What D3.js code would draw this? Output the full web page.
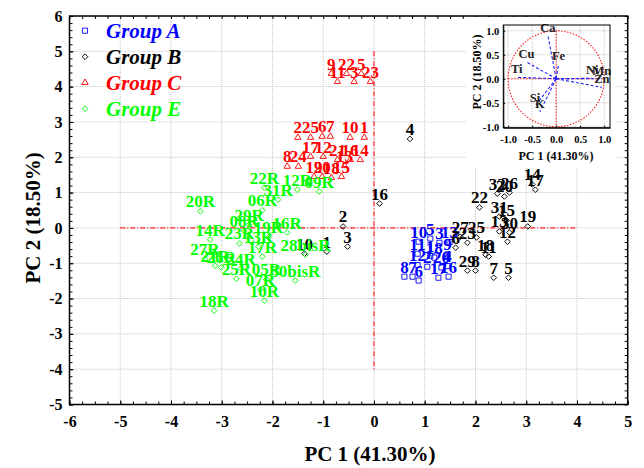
<!DOCTYPE html>
<html>
<head>
<meta charset="utf-8">
<title>PCA scores</title>
<script src="https://d3js.org/d3.v7.min.js"></script>
<style>
  body { margin: 0; background: #fff; }
  svg text { font-family: "Liberation Serif", "Times New Roman", serif; font-weight: bold; }
</style>
</head>
<body>
<svg id="chart" width="644" height="468"></svg>
<script>
// ---- values ----
const groupNames = ["Group A", "Group B", "Group C", "Group E"];
const groupColors = ["#0000ff", "#000000", "#ff0000", "#00ff00"];
const groupShapes = ["square", "diamond", "triangle", "diamond"];

const aLabels = ["10","5","3","13","11","1","18","9","12","2","20","4","8","7","6","17","16"];
const aX = [0.88,1.11,1.29,1.49, 0.86,1.11,1.19,1.45, 0.86,1.05,1.33,1.45, 0.60,0.76,0.88,1.27,1.47];
const aY = [-0.39,-0.30,-0.42,-0.40, -0.73,-0.79,-0.84,-0.75, -1.05,-1.10,-1.12,-1.08, -1.38,-1.38,-1.49,-1.41,-1.38];

const bLabels = ["4","16","2","3","10","1","14","17","32","20","26","22","31","15","19","13","30","12","25","23","27","6","18","11","29","8","7","5"];
const bX = [0.71,0.11,-0.61,-0.52,-1.37,-0.93,3.12,3.18,2.43,2.57,2.67,2.08,2.47,2.61,3.03,2.47,2.67,2.63,2.02,1.84,1.70,1.61,2.20,2.26,1.84,2.00,2.36,2.65];
const bY = [2.52,0.69,0.04,-0.53,-0.73,-0.67,1.23,1.08,0.97,0.89,1.00,0.58,0.32,0.21,0.04,-0.10,-0.13,-0.39,-0.27,-0.42,-0.25,-0.56,-0.76,-0.81,-1.21,-1.21,-1.41,-1.41];

const cLabels = ["9","22","5","11","3","23","2","25","6","7","10","1","17","12","21","16","14","8","24","13","19","20","18","15"];
const cX = [-0.84,-0.54,-0.25,-0.72,-0.39,-0.07, -1.50,-1.25,-1.02,-0.86,-0.47,-0.19, -1.25,-1.00,-0.72,-0.47,-0.27, -1.71,-1.49,-0.58,-1.18,-1.02,-0.84,-0.64];
const cY = [4.37,4.37,4.37,4.14,4.14,4.14, 2.56,2.56,2.59,2.59,2.56,2.56, 2.02,2.02,1.93,1.93,1.93, 1.74,1.74,1.76,1.45,1.45,1.42,1.45];

const eLabels = ["20R","06R","22R","31R","12R","09R","29R","08R","16R","19R","14R","23R","13R","17R","28bisR","30bisR","05R","07R","10R","18R","27R","21R","26R","24R","25R"];
const eX = [-3.42,-2.20,-2.16,-1.89,-1.51,-1.08,-2.46,-2.56,-1.71,-2.08,-3.23,-2.65,-2.28,-2.20,-1.35,-1.55,-2.12,-2.24,-2.16,-3.15,-3.33,-3.13,-3.01,-2.62,-2.71];
const eY = [0.47,0.50,1.14,0.80,1.08,1.03,0.09,-0.08,-0.13,-0.27,-0.33,-0.44,-0.53,-0.81,-0.76,-1.49,-1.46,-1.75,-2.06,-2.34,-0.87,-1.07,-1.12,-1.15,-1.44];

// loadings for the inset
const loadNames = ["Ca","Fe","Cu","Ti","Ni","Mn","Zn","Si","K"];
const loadX = [-0.17,0.05,-0.62,-0.82,0.75,0.95,0.95,-0.44,-0.34];
const loadY = [0.89,0.30,0.35,0.03,0.01,0.0,-0.18,-0.57,-0.69];

const xTicks = [-6,-5,-4,-3,-2,-1,0,1,2,3,4,5];
const yTicks = [-5,-4,-3,-2,-1,0,1,2,3,4,5,6];
const insetTicks = [-1,-0.5,0,0.5,1];

const series = [
  {labels: aLabels, xs: aX, ys: aY},
  {labels: bLabels, xs: bX, ys: bY},
  {labels: cLabels, xs: cX, ys: cY},
  {labels: eLabels, xs: eX, ys: eY}
].map((s, i) => ({
  name: groupNames[i], color: groupColors[i], shape: groupShapes[i],
  points: s.labels.map((l, j) => ({label: l, x: s.xs[j], y: s.ys[j]}))
}));

const svg = d3.select("#chart");
const pLeft = 69.5, pRight = 627.7, pTop = 16, pBottom = 404.5;

const x = d3.scaleLinear().domain([-6, 5]).range([pLeft, pRight]);
const y = d3.scaleLinear().domain([-5, 6]).range([pBottom, pTop]);

// grid
const grid = svg.append("g").attr("stroke", "#c4c4c4").attr("stroke-dasharray", "1,1");
grid.selectAll(".gx").data(xTicks).enter().append("line")
  .attr("x1", d => x(d)).attr("x2", d => x(d)).attr("y1", pTop).attr("y2", pBottom);
grid.selectAll(".gy").data(yTicks).enter().append("line")
  .attr("y1", d => y(d)).attr("y2", d => y(d)).attr("x1", pLeft).attr("x2", pRight);

// red reference lines through the origin
svg.append("line").attr("x1", x(-5)).attr("x2", x(4)).attr("y1", y(0)).attr("y2", y(0))
  .attr("stroke", "#ff2020").attr("stroke-width", 1.2).attr("stroke-dasharray", "5,2,1,2");
svg.append("line").attr("x1", x(0)).attr("x2", x(0)).attr("y1", y(5)).attr("y2", y(-4))
  .attr("stroke", "#ff2020").attr("stroke-width", 1.2).attr("stroke-dasharray", "5,2,1,2");

// axes with inward ticks
const fmt = d => String(d);
function styleAxis(g) {
  g.select(".domain").remove();
  g.selectAll("line").attr("stroke", "#000");
  g.selectAll("text").attr("fill", "#000").style("font-size", "16px");
}
svg.append("g").attr("transform", `translate(0,${pBottom})`)
  .call(d3.axisBottom(x).tickValues(xTicks).tickSize(-4).tickPadding(11).tickFormat(fmt)).call(styleAxis);
svg.append("g").attr("transform", `translate(0,${pBottom})`)
  .call(d3.axisBottom(x).tickValues(d3.range(-6, 5.01, 0.25)).tickSize(-3).tickFormat("")).call(styleAxis);
svg.append("g").attr("transform", `translate(${pLeft},0)`)
  .call(d3.axisLeft(y).tickValues(yTicks).tickSize(-4).tickPadding(7).tickFormat(fmt)).call(styleAxis);
svg.append("g").attr("transform", `translate(${pLeft},0)`)
  .call(d3.axisLeft(y).tickValues(d3.range(-5, 6.01, 0.2)).tickSize(-3).tickFormat("")).call(styleAxis);
svg.append("g").attr("transform", `translate(${pRight},0)`)
  .call(d3.axisRight(y).tickValues(d3.range(-5, 6.01, 0.2)).tickSize(-3).tickFormat("")).call(styleAxis);
svg.append("g").attr("transform", `translate(0,${pTop})`)
  .call(d3.axisTop(x).tickValues(d3.range(-6, 5.01, 0.25)).tickSize(-3).tickFormat("")).call(styleAxis);

// axis titles
svg.append("text").attr("x", 370).attr("y", 461).attr("text-anchor", "middle")
  .style("font-size", "21px").text("PC 1 (41.30%)");
svg.append("text").attr("transform", "translate(40,218) rotate(-90)").attr("text-anchor", "middle")
  .style("font-size", "21px").text("PC 2 (18.50%)");

// markers
function symbolFor(shape) {
  if (shape === "square") return d3.symbol().type(d3.symbolSquare).size(26)();
  if (shape === "triangle") return d3.symbol().type(d3.symbolTriangle).size(18)();
  return d3.symbol().type(d3.symbolSquare).size(16)();
}
function rot(shape) { return shape === "diamond" ? " rotate(45)" : ""; }

series.forEach(s => {
  const g = svg.append("g");
  g.selectAll("path").data(s.points).enter().append("path")
    .attr("d", symbolFor(s.shape))
    .attr("transform", d => `translate(${x(d.x)},${y(d.y)})${rot(s.shape)}`)
    .attr("fill", "none").attr("stroke", s.color).attr("stroke-width", 0.9);
  g.selectAll("text").data(s.points).enter().append("text")
    .attr("x", d => x(d.x)).attr("y", d => y(d.y) - 4)
    .attr("text-anchor", "middle").attr("fill", s.color)
    .style("font-size", "17px").text(d => d.label);
});

// legend
const legend = svg.append("g");
series.forEach((s, i) => {
  const ly = 30.7 + i * 26;
  legend.append("path").attr("d", symbolFor(s.shape))
    .attr("transform", `translate(85,${ly})${rot(s.shape)}`)
    .attr("fill", "none").attr("stroke", s.color).attr("stroke-width", 0.9);
  legend.append("text").attr("x", 106).attr("y", ly + 7)
    .attr("fill", s.color).style("font-size", "21px").style("font-style", "italic")
    .text(s.name);
});

// inset: loading plot
const ix = d3.scaleLinear().domain([-1.1, 1.12]).range([503.3, 610]);
const iy = d3.scaleLinear().domain([-1.02, 1.12]).range([127.7, 25]);
const inset = svg.append("g");
inset.append("rect").attr("x", 466).attr("y", pTop + 1).attr("width", 151).attr("height", 151).attr("fill", "#fff");
const ig = inset.append("g").attr("stroke", "#c4c4c4").attr("stroke-dasharray", "1,1");
ig.selectAll(".ix").data(insetTicks).enter().append("line")
  .attr("x1", d => ix(d)).attr("x2", d => ix(d)).attr("y1", 25).attr("y2", 127.7);
ig.selectAll(".iy").data(insetTicks).enter().append("line")
  .attr("y1", d => iy(d)).attr("y2", d => iy(d)).attr("x1", 503.3).attr("x2", 610);

inset.append("ellipse").attr("cx", ix(0)).attr("cy", iy(0))
  .attr("rx", ix(1) - ix(0)).attr("ry", iy(0) - iy(1))
  .attr("fill", "none").attr("stroke", "#ff2020").attr("stroke-width", 1.1).attr("stroke-dasharray", "1.5,1.5");
inset.append("line").attr("x1", ix(-1)).attr("x2", ix(1)).attr("y1", iy(0)).attr("y2", iy(0))
  .attr("stroke", "#ff2020").attr("stroke-width", 1.1).attr("stroke-dasharray", "1.5,1.5");
inset.append("line").attr("x1", ix(0)).attr("x2", ix(0)).attr("y1", iy(1)).attr("y2", iy(-1))
  .attr("stroke", "#ff2020").attr("stroke-width", 1.1).attr("stroke-dasharray", "1.5,1.5");

const loads = loadNames.map((n, i) => ({name: n, x: loadX[i], y: loadY[i]}));
inset.selectAll(".ld").data(loads).enter().append("line")
  .attr("x1", ix(0)).attr("y1", iy(0)).attr("x2", d => ix(d.x)).attr("y2", d => iy(d.y))
  .attr("stroke", "#2020ff").attr("stroke-width", 1.1).attr("stroke-dasharray", "3,2");
inset.selectAll(".lt").data(loads).enter().append("text")
  .attr("x", d => ix(d.x)).attr("y", d => iy(d.y) - 4).attr("text-anchor", "middle")
  .style("font-size", "12.5px").attr("fill", "#222").text(d => d.name);

function styleInset(g) {
  g.select(".domain").attr("stroke", "#000");
  g.selectAll("line").attr("stroke", "#000");
  g.selectAll("text").attr("fill", "#000").style("font-size", "10.5px");
}
const ifmt = d => d.toFixed(1);
inset.append("g").attr("transform", "translate(0,127.7)")
  .call(d3.axisBottom(ix).tickValues(insetTicks).tickSize(-2).tickSizeOuter(0).tickPadding(8).tickFormat(ifmt)).call(styleInset);
inset.append("g").attr("transform", "translate(503.3,0)")
  .call(d3.axisLeft(iy).tickValues(insetTicks).tickSize(-2).tickSizeOuter(0).tickPadding(4).tickFormat(ifmt)).call(styleInset);
inset.append("rect").attr("x", 503.3).attr("y", 25).attr("width", 610 - 503.3).attr("height", 127.7 - 25)
  .attr("fill", "none").attr("stroke", "#000").attr("stroke-width", 1);
inset.append("text").attr("x", 556).attr("y", 160).attr("text-anchor", "middle")
  .style("font-size", "12px").text("PC 1 (41.30%)");
inset.append("text").attr("transform", "translate(481,72) rotate(-90)").attr("text-anchor", "middle")
  .style("font-size", "12px").text("PC 2 (18.50%)");

// frame
svg.append("rect").attr("x", pLeft).attr("y", pTop).attr("width", pRight - pLeft).attr("height", pBottom - pTop)
  .attr("fill", "none").attr("stroke", "#000").attr("stroke-width", 1.5);
</script>
</body>
</html>
